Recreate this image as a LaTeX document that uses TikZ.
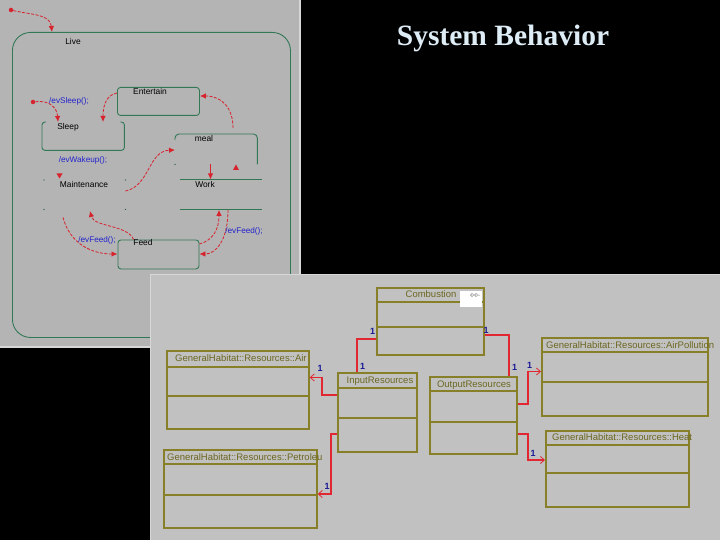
\documentclass[tikz,border=0pt]{standalone}
\usepackage{fontspec}
\setmainfont{Liberation Serif}
\newfontfamily\arialf{Liberation Sans}
\usetikzlibrary{arrows.meta,calc}
\definecolor{panelA}{RGB}{180,180,180}
\definecolor{panelB}{RGB}{193,193,193}
\definecolor{panelEdge}{RGB}{215,215,215}
\definecolor{stgreen}{RGB}{50,120,85}
\definecolor{olivec}{RGB}{135,128,40}
\definecolor{trred}{RGB}{215,35,45}
\definecolor{assocred}{RGB}{225,40,50}
\definecolor{lblblue}{RGB}{35,35,205}
\definecolor{numblue}{RGB}{25,25,150}
\definecolor{titlec}{RGB}{222,236,246}
\tikzset{
  stbox/.style={draw=stgreen, line width=0.9pt, rounded corners=3pt, inner sep=0pt, anchor=north west},
  stline/.style={draw=stgreen, line width=0.9pt},
  sthold/.style={inner sep=0pt, anchor=north west},
  sttext/.style={font=\arialf\fontsize{8.4}{9}\selectfont, text=black, inner sep=0pt},
  evtext/.style={font=\arialf\fontsize{8.2}{9}\selectfont, text=lblblue, inner sep=0pt},
  tr/.style={draw=trred, line width=0.8pt, dash pattern=on 3pt off 1.5pt, -{Latex[length=6pt,width=5.5pt]}},
  trsolid/.style={draw=trred, line width=0.9pt, -{Latex[length=6pt,width=5.5pt]}},
  initdot/.style={circle, fill=trred, inner sep=0pt, minimum size=4.5pt},
  cdot/.style={circle, fill=stgreen!70!black, inner sep=0pt, minimum size=1.3pt},
  cls/.style={draw=olivec, line width=1.7pt, inner sep=0pt, anchor=north west},
  clsline/.style={draw=olivec, line width=1.7pt},
  clstext/.style={font=\arialf\fontsize{9.5}{11}\selectfont, text=olivec!80!black, inner sep=0pt},
  assoc/.style={draw=assocred, line width=1.5pt},
  assocarr/.style={draw=assocred, line width=1.5pt, -{Straight Barb[length=4pt,width=7pt,line width=0.8pt]}},
  num/.style={font=\arialf\bfseries\fontsize{9}{10}\selectfont, text=numblue, inner sep=0pt},
}
\begin{document}
\begin{tikzpicture}[x=1pt,y=-1pt]
\useasboundingbox (0,0) rectangle (720,540);
\fill[black] (0,0) rectangle (720,540);

% ---------- title ----------
\node[font=\bfseries\fontsize{29.5}{32}\selectfont, text=titlec, inner sep=0pt, anchor=base] (title) at (503,46) {System Behavior};

% ---------- left panel: statechart ----------
\fill[panelA] (0,0) rectangle (301,347);
\draw[panelEdge, line width=1.2pt] (300,0) -- (300,347) -- (0,347);

\node[stbox, rounded corners=18pt, minimum width=278pt, minimum height=305pt] (live) at (12,32) {};
\node[sttext] (livel) at (73,41) {Live};

\node[initdot] (i0) at (11,10) {};
\draw[tr] (i0) .. controls (32,15) and (50,14) .. (live.north -| 52,0);

% Entertain
\node[stbox, minimum width=82pt, minimum height=28pt] (ent) at (117,87) {};
\node[sttext] (entl) at (150,91) {Entertain};

% Sleep (open top)
\node[sthold, minimum width=82pt, minimum height=28pt] (sleep) at (42,122) {};
\draw[stline, rounded corners=3pt] ($(sleep.north west)+(4,0)$) -- (sleep.north west) -- (sleep.south west) -- (sleep.south east) -- (sleep.north east) -- ($(sleep.north east)+(-4,0)$);
\node[sttext] (sleepl) at (68,127) {Sleep};

\node[initdot] (i1) at (33,102) {};
\draw[tr] (i1) .. controls (50,100) and (57,108) .. (sleep.north -| 58,0);
\node[evtext] (evsleep) at (69,101) {/evSleep();};

\draw[tr] (ent.west |- 0,93) .. controls (106,95) and (103,106) .. (sleep.north -| 103,0);

% meal
\node[sthold, minimum width=82pt, minimum height=30pt] (meal) at (175,134) {};
\draw[stline, rounded corners=4pt] ($(meal.north west)+(0,6)$) -- (meal.north west) -- (meal.north east) -- (meal.south east);
\node[cdot] (mealdot) at (meal.south west) {};
\node[sttext] (meall) at (204,138) {meal};

\draw[tr] (meal.north -| 233,0) ++(0,-6) .. controls (233,108) and (222,96) .. (ent.east |- 0,96);

% Maintenance (only corner marks)
\node[sthold, minimum width=81pt, minimum height=29pt] (maint) at (44,180) {};
\node[cdot] (m1) at (maint.north west) {};
\node[cdot] (m2) at (maint.north east) {};
\node[cdot] (m3) at (maint.south west) {};
\node[cdot] (m4) at (maint.south east) {};
\node[sttext] (maintl) at (84,184) {Maintenance};
\fill[trred] (56.5,173.5) -- (62.5,173.5) -- (59.5,178.5) -- cycle;

\node[evtext] (evwake) at (83,160) {/evWakeup();};

% Work (top and bottom lines)
\node[sthold, minimum width=82pt, minimum height=30pt] (work) at (179.5,179.5) {};
\draw[stline] (work.north west) -- (work.north east);
\draw[stline] (work.south west) -- (work.south east);
\node[sttext] (workl) at (205,184) {Work};

\draw[trsolid] (meal.south -| 210.5,0) -- (work.north -| 210.5,0);
\fill[trred] (233,170) -- (239,170) -- (236,164.5) -- cycle;

\draw[tr] (maint.east |- 0,191) .. controls (150,186) and (148,151) .. (meal.west |- 0,150);

% Feed
\node[stbox, minimum width=81pt, minimum height=29pt] (feed) at (117.5,239.5) {};
\node[sttext] (feedl) at (143,242) {Feed};

\draw[tr] (maint.south -| 63,0) ++(0,8) .. controls (70,244) and (92,254) .. (feed.west |- 0,254);
\node[evtext] (evfeed1) at (97,240) {/evFeed();};
\draw[tr] (feed.north -| 133.5,0) .. controls (128,225) and (94,227) .. (90,211);

\draw[tr] (feed.east |- 0,244) .. controls (214,240) and (219,228) .. (work.south -| 219,0);
\draw[tr] (work.south -| 228,0) .. controls (228,240) and (216,254) .. (feed.east |- 0,254);
\node[evtext] (evfeed2) at (244,231) {/evFeed();};

% ---------- lower panel: class diagram ----------
\fill[panelB] (150,274) rectangle (720,540);
\draw[panelEdge, line width=1pt] (150.5,540) -- (150.5,274.5) -- (720,274.5);

% Combustion
\node[cls, minimum width=107pt, minimum height=67pt] (comb) at (376,287) {};
\draw[clsline] ($(comb.north west)+(0,15)$) -- ($(comb.north east)+(0,15)$);
\draw[clsline] ($(comb.north west)+(0,40)$) -- ($(comb.north east)+(0,40)$);
\fill[white] (460,290.5) rectangle (481.5,306.5);
\draw[gray, line width=0.5pt] (472,295) circle (1.6pt) (476,295) circle (1.6pt) (478,295) -- (480,295);
\node[clstext] (combl) at (431,294.5) {Combustion};

% Air
\node[cls, minimum width=142pt, minimum height=78pt] (air) at (166,350) {};
\draw[clsline] ($(air.north west)+(0,17)$) -- ($(air.north east)+(0,17)$);
\draw[clsline] ($(air.north west)+(0,46)$) -- ($(air.north east)+(0,46)$);
\node[clstext, anchor=west] (airl) at (175,358.5) {GeneralHabitat::Resources::Air};

% InputResources
\node[cls, minimum width=79pt, minimum height=79pt] (inp) at (337,372) {};
\draw[clsline] ($(inp.north west)+(0,16)$) -- ($(inp.north east)+(0,16)$);
\draw[clsline] ($(inp.north west)+(0,46)$) -- ($(inp.north east)+(0,46)$);
\node[clstext] (inpl) at (380,381) {InputResources};

% OutputResources
\node[cls, minimum width=87pt, minimum height=77pt] (out) at (429,376) {};
\draw[clsline] ($(out.north west)+(0,15)$) -- ($(out.north east)+(0,15)$);
\draw[clsline] ($(out.north west)+(0,46)$) -- ($(out.north east)+(0,46)$);
\node[clstext] (outl) at (474,385) {OutputResources};

% AirPollution
\node[cls, minimum width=166pt, minimum height=78pt] (airp) at (541,337) {};
\draw[clsline] ($(airp.north west)+(0,15)$) -- ($(airp.north east)+(0,15)$);
\draw[clsline] ($(airp.north west)+(0,45)$) -- ($(airp.north east)+(0,45)$);
\node[clstext, anchor=west] (airpl) at (546,345) {GeneralHabitat::Resources::AirPollution};

% Heat
\node[cls, minimum width=143pt, minimum height=76pt] (heat) at (545,430) {};
\draw[clsline] ($(heat.north west)+(0,15)$) -- ($(heat.north east)+(0,15)$);
\draw[clsline] ($(heat.north west)+(0,43)$) -- ($(heat.north east)+(0,43)$);
\node[clstext, anchor=west] (heatl) at (552,437.5) {GeneralHabitat::Resources::Heat};

% Petroleu
\node[cls, minimum width=153pt, minimum height=78pt] (pet) at (163,449) {};
\draw[clsline] ($(pet.north west)+(0,15)$) -- ($(pet.north east)+(0,15)$);
\draw[clsline] ($(pet.north west)+(0,46)$) -- ($(pet.north east)+(0,46)$);
\node[clstext, anchor=west] (petl) at (167,457.5) {GeneralHabitat::Resources::Petroleu};

% associations
\draw[assoc] (comb.west |- 0,339) -- (357,339) -- (inp.north -| 357,0);
\draw[assoc] (comb.east |- 0,335) -- (509,335) -- (out.north -| 509,0);
\draw[assocarr] (out.east |- 0,404) -- (528,404) -- (528,371.5) -- (airp.west |- 0,371.5);
\draw[assocarr] (inp.west |- 0,395) -- (322,395) -- (322,377.5) -- (air.east |- 0,377.5);
\draw[assocarr] (inp.west |- 0,434) -- (331,434) -- (331,494) -- (pet.east |- 0,494);
\draw[assocarr] (out.east |- 0,434) -- (528,434) -- (528,460) -- (heat.west |- 0,460);

\node[num] (n1) at (372.5,331) {1};
\node[num] (n2) at (362.5,366) {1};
\node[num] (n3) at (320,368.5) {1};
\node[num] (n4) at (486,330) {1};
\node[num] (n5) at (514.5,367.5) {1};
\node[num] (n6) at (529.5,365) {1};
\node[num] (n7) at (327,486) {1};
\node[num] (n8) at (533,453) {1};
\end{tikzpicture}
\end{document}
